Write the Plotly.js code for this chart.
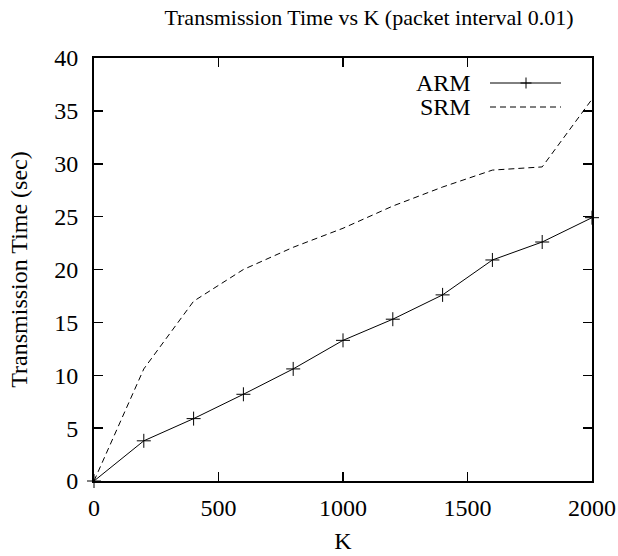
<!DOCTYPE html>
<html>
<head>
<meta charset="utf-8">
<script src="https://cdn.plot.ly/plotly-3.0.1.min.js"></script>
<style>body{margin:0;padding:0;background:#fff;} #chart{width:618px;height:556px;}</style>
</head>
<body>
<div id="chart"></div>
<script>
const K = [0, 200, 400, 600, 800, 1000, 1200, 1400, 1600, 1800, 2000];
const ARM = [0, 3.8, 5.9, 8.2, 10.6, 13.3, 15.3, 17.6, 20.9, 22.6, 24.9];
const SRM = [0, 10.6, 17.0, 20.0, 22.1, 23.9, 26.0, 27.8, 29.4, 29.7, 36.1];
const xTicks = [0, 500, 1000, 1500, 2000];
const yTicks = [0, 5, 10, 15, 20, 25, 30, 35, 40];
const seriesNames = ['ARM', 'SRM'];

const FONT = 'Liberation Serif, Times New Roman, serif';
const W = 618, H = 556;
const M = {l: 94, r: 26, t: 58, b: 75};
const pw = W - M.l - M.r, ph = H - M.t - M.b;
function px(x){ return (x - M.l) / pw; }
function py(y){ return 1 - (y - M.t) / ph; }

const traces = [
  {x: K, y: ARM, name: seriesNames[0], mode: 'lines+markers', type: 'scatter',
   line: {color: '#000', width: 1},
   marker: {symbol: 'cross-thin', size: 10, line: {color: '#000', width: 1}},
   cliponaxis: false, showlegend: false},
  {x: K, y: SRM, name: seriesNames[1], mode: 'lines', type: 'scatter',
   line: {color: '#000', width: 1, dash: '6px,4px'},
   cliponaxis: false, showlegend: false}
];

const legY = [83, 107];
const shapes = [
  {type: 'line', xref: 'paper', yref: 'paper', x0: px(490), x1: px(561), y0: py(legY[0]), y1: py(legY[0]), line: {color: '#000', width: 1}},
  {type: 'line', xref: 'paper', yref: 'paper', x0: px(520.5), x1: px(531.5), y0: py(legY[0]), y1: py(legY[0]), line: {color: '#000', width: 1}},
  {type: 'line', xref: 'paper', yref: 'paper', x0: px(526), x1: px(526), y0: py(legY[0]-5.5), y1: py(legY[0]+5.5), line: {color: '#000', width: 1}},
  {type: 'line', xref: 'paper', yref: 'paper', x0: px(490), x1: px(561), y0: py(legY[1]), y1: py(legY[1]), line: {color: '#000', width: 1, dash: '6px,4px'}}
];
const annotations = seriesNames.map((n, i) => ({
  text: n, xref: 'paper', yref: 'paper', x: px(473), y: py(legY[i]),
  xanchor: 'right', yanchor: 'middle', showarrow: false,
  font: {family: FONT, size: 24, color: '#000'}
}));

const axisCommon = {
  showgrid: false, zeroline: false, showline: true, linecolor: '#000', linewidth: 2,
  mirror: 'allticks', ticks: 'inside', ticklen: 9, tickwidth: 1.5, tickcolor: '#000',
  tickfont: {family: FONT, size: 24, color: '#000'}
};

const layout = {
  width: W, height: H, margin: M,
  paper_bgcolor: '#fff', plot_bgcolor: '#fff',
  title: {text: 'Transmission Time vs K (packet interval 0.01)', font: {family: FONT, size: 22, color: '#000'},
          x: 369 / W, xanchor: 'center', y: 1 - 17/H, yanchor: 'middle'},
  xaxis: Object.assign({}, axisCommon, {range: [0, 2000], tickvals: xTicks, ticktext: xTicks.map(String),
          ticklabelstandoff: 4,
          title: {text: 'K', font: {family: FONT, size: 24, color: '#000'}, standoff: 12}}),
  yaxis: Object.assign({}, axisCommon, {range: [0, 40], tickvals: yTicks, ticktext: yTicks.map(String),
          ticklabelstandoff: 9,
          title: {text: 'Transmission Time (sec)', font: {family: FONT, size: 24, color: '#000'}, standoff: 20}}),
  shapes: shapes, annotations: annotations, showlegend: false
};

Plotly.newPlot('chart', traces, layout, {displayModeBar: false, staticPlot: true});
</script>
</body>
</html>
